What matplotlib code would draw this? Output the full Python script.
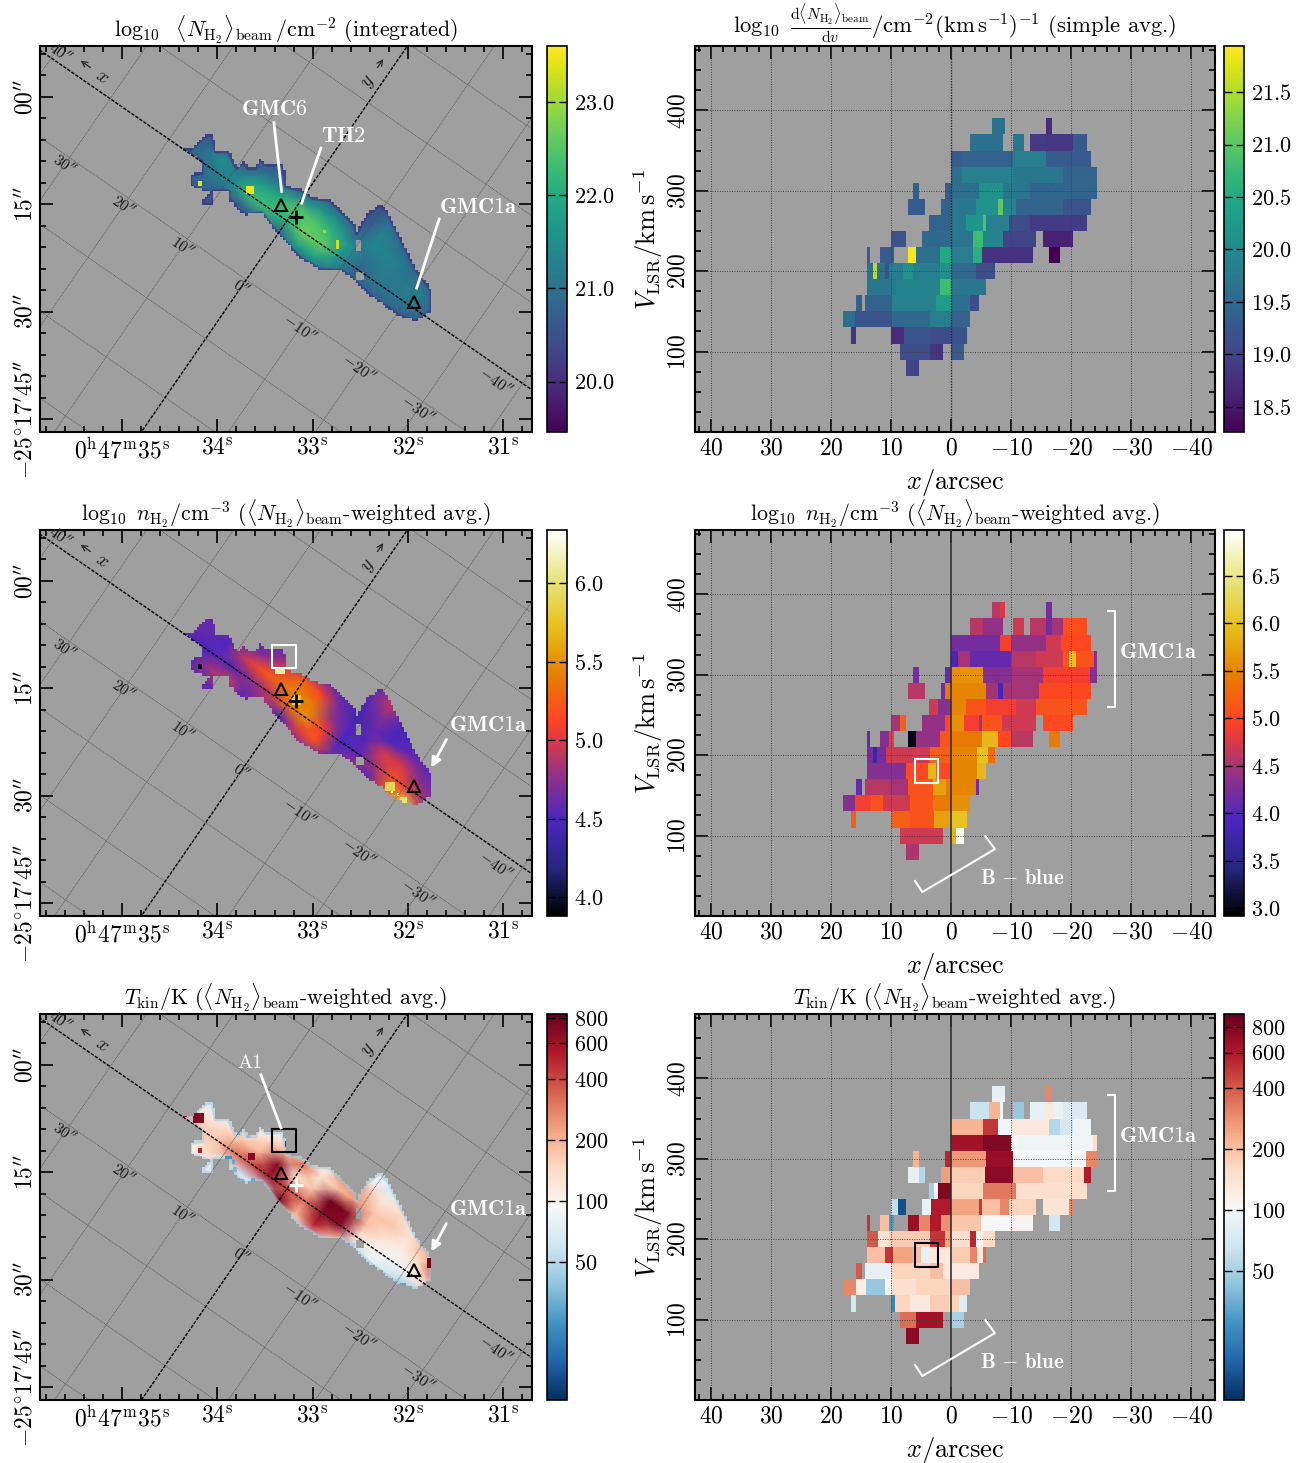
import numpy as np
import matplotlib
matplotlib.use("Agg")
import matplotlib.pyplot as plt
from matplotlib.colors import Normalize, LogNorm
from matplotlib.cm import ScalarMappable
from matplotlib.path import Path
from matplotlib.ticker import FixedLocator, NullLocator

plt.rcParams["font.family"] = ["cmr10", "DejaVu Sans"]
plt.rcParams["mathtext.fontset"] = "cm"
plt.rcParams["axes.unicode_minus"] = False
plt.rcParams["axes.formatter.use_mathtext"] = True

W, H = 1304, 1463
GRAY = "#9f9f9f"

# position-velocity rows: velocity -> (x_start, x_end, value)
pv_nh = {
    380: [(-6.9, -9.0, 19.6), (-15.9, -16.8, 18.7)],
    360: [(-3.1, -8.6, 19.6), (-10.4, -12.2, 19.7), (-13.2, -15.8, 18.9), (-15.8, -20.3, 18.85), (-20.3, -22.7, 19.3)],
    340: [(0, -1.9, 19.3), (-1.9, -10.3, 19.4), (-10.3, -15.8, 19.8), (-15.8, -20, 19.3), (-20, -23.4, 19.3)],
    320: [(0, -1.9, 19.6), (-1.9, -10.3, 19.85), (-10.3, -18.6, 19.7), (-18.6, -24.4, 19.4)],
    300: [(6.4, 5.4, 19.4), (1.0, 0, 19.3), (0, -4.7, 19.6), (-4.7, -8.6, 20.1), (-8.6, -13.1, 19.7), (-13.1, -24.4, 19.45)],
    280: [(7.2, 4.4, 19.3), (1.7, 0, 19.4), (0, -4.2, 19.7), (-4.2, -7.8, 20.1), (-7.8, -8.6, 21.0), (-8.6, -10.8, 19.9),
          (-10.8, -18.6, 19.4), (-18.6, -23.4, 19.2)],
    260: [(3.7, 0, 19.4), (0, -2.5, 19.7), (-2.5, -5.3, 20.2), (-5.3, -5.8, 20.9), (-5.8, -9.7, 19.8), (-9.7, -13.1, 19.1),
          (-13.1, -22.7, 18.9)],
    240: [(10.1, 7.6, 19.2), (4.9, 0, 19.5), (0, -3.6, 19.7), (-3.6, -5.4, 20.8), (-5.4, -8.6, 19.9), (-8.6, -14.1, 19.0),
          (-15.3, -20.4, 18.6)],
    220: [(14.0, 13.5, 19.3), (11.8, 9.6, 19.3), (7.2, 5.9, 21.9), (5.9, 1.9, 19.6), (1.9, 0, 20.5), (0, -3.6, 19.8),
          (-3.6, -5.2, 20.6), (-5.2, -13.6, 18.8), (-16.4, -18.1, 18.27)],
    200: [(14.0, 13.1, 19.6), (13.1, 12.3, 21.5), (12.3, 11.1, 19.6), (11.1, 10.3, 19.2), (10.3, 8.1, 19.8), (8.1, 6.4, 20.1),
          (6.4, 1.9, 19.8), (1.9, 0, 20.1), (0, -4.2, 19.5), (-4.2, -7.3, 19.1)],
    180: [(14.0, 9.2, 19.7), (9.2, 1.9, 19.9), (1.9, 0, 20.8), (0, -5.8, 19.7)],
    160: [(15.9, 14.9, 19.4), (14.4, 10.0, 19.4), (10.0, 2.5, 19.85), (2.5, 0, 20.3), (0, -3.1, 19.6), (-3.1, -4.6, 19.1)],
    140: [(18.1, 16.1, 19.6), (16.1, 10.0, 19.2), (10.0, 3.6, 19.5), (3.6, 0, 19.8), (0, -3.1, 19.4)],
    120: [(16.7, 15.9, 18.8), (10.1, 7.8, 18.7), (7.8, 3.6, 19.2), (3.6, 0, 19.1), (0, -2.6, 19.2)],
    100: [(8.6, 3.6, 19.1), (3.6, 1.4, 18.8), (0, -2.2, 19.3)],
    80: [(7.6, 5.4, 19.0)],
}
pv_n = {
    380: [(-6.9, -8.1, 4.6), (-8.1, -9.0, 4.75), (-15.9, -16.8, 4.2)],
    360: [(-3.1, -5.3, 4.6), (-5.3, -8.6, 4.4), (-10.4, -12.2, 4.7), (-13.2, -15.8, 4.6), (-15.8, -16.8, 4.2), (-16.8, -18.6, 4.5),
          (-18.6, -22.7, 5.05)],
    340: [(0, -8.1, 4.2), (-8.1, -10, 4.9), (-10, -15.8, 4.4), (-15.8, -18.3, 4.7), (-18.3, -23.4, 5.0)],
    320: [(0, -1.1, 3.9), (-1.1, -3.1, 4.5), (-3.1, -10, 4.1), (-10, -14.2, 4.6), (-14.2, -18.6, 4.7), (-18.6, -19.6, 5.1),
          (-19.6, -20.8, 6.0), (-20.8, -23.9, 5.1), (-23.9, -24.4, 4.3)],
    300: [(6.4, 5.4, 4.2), (1.0, 0, 4.1), (0, -5.3, 5.6), (-5.3, -10, 4.3), (-10, -15.3, 4.5), (-15.3, -23.1, 4.9), (-23.1, -24.4, 4.3)],
    280: [(7.2, 4.4, 4.6), (1.7, 1.0, 4.2), (1.0, 0, 5.4), (0, -5.8, 5.5), (-5.8, -7.8, 4.5), (-7.8, -8.6, 3.9), (-8.6, -14.7, 4.5),
          (-14.7, -23.4, 5.0)],
    260: [(3.7, 2.2, 4.7), (2.2, 0, 4.3), (0, -2.5, 5.5), (-2.5, -5.8, 5.1), (-5.8, -10.8, 4.9), (-10.8, -14.2, 4.7), (-14.2, -22.7, 5.1)],
    240: [(10.1, 8.6, 4.5), (8.6, 7.6, 5.2), (4.9, 1.1, 4.4), (1.1, 0, 5.0), (0, -2.2, 5.6), (-2.2, -4.7, 4.9), (-4.7, -5.2, 4.5),
          (-5.2, -8.5, 5.1), (-8.5, -14.1, 4.7), (-15.3, -20.4, 5.0)],
    220: [(14, 13.5, 4.1), (11.8, 10.3, 4.3), (10.3, 9.6, 4.8), (7.2, 5.9, 3.0), (5.9, 1.9, 4.4), (1.9, 0, 5.1), (0, -5.2, 5.4),
          (-5.2, -7.8, 5.9), (-7.8, -10, 5.0), (-10, -13.6, 4.6), (-16.4, -18.1, 5.4)],
    200: [(14, 13.1, 4.2), (13.1, 12.3, 3.7), (12.3, 10.8, 4.2), (10.8, 3.6, 4.7), (3.6, 0, 5.2), (0, -4.4, 5.5), (-4.4, -6.1, 6.0),
          (-6.1, -7.3, 5.3)],
    180: [(14, 7.5, 4.3), (7.5, 3.9, 5.0), (3.9, 2.6, 5.9), (2.6, 1.7, 5.1), (1.7, 0, 5.0), (0, -4.4, 5.5), (-4.4, -5.8, 5.9)],
    160: [(15.9, 14.9, 4.1), (14.4, 10.3, 4.6), (10.3, 7.2, 4.5), (7.2, 3.1, 5.1), (3.1, 0.8, 5.7), (0.8, 0, 5.4), (0, -4.2, 5.5),
          (-4.2, -4.6, 4.2)],
    140: [(18.1, 16.1, 4.3), (16.1, 13.3, 4.9), (13.3, 11.4, 5.1), (11.4, 6.9, 4.7), (6.9, 3.1, 5.1), (3.1, 0, 5.4), (0, -3.1, 5.6)],
    120: [(16.7, 15.9, 5.2), (10.1, 6.9, 5.2), (6.9, 2.8, 5.1), (2.8, 0, 5.7), (0, -2.6, 6.0)],
    100: [(8.6, 1.4, 4.7), (0, -0.8, 5.9), (-0.8, -2.2, 6.9)],
    80: [(7.6, 5.4, 4.55)],
}
pv_t = {
    380: [(-6.9, -9, 85), (-15.9, -16.8, 300)],
    360: [(-3.1, -6.4, 65), (-6.4, -8.2, 220), (-8.2, -8.6, 100), (-10.4, -12.2, 45), (-13.2, -15.8, 85), (-15.8, -17.2, 130),
          (-17.2, -18.6, 90), (-18.6, -22.7, 75)],
    340: [(0, -5.3, 220), (-5.3, -7.8, 500), (-7.8, -10, 95), (-10, -16.4, 130), (-16.4, -18.1, 55), (-18.1, -20.3, 70), (-20.3, -23.4, 95)],
    320: [(0, -5.3, 650), (-5.3, -10, 800), (-10, -11.1, 100), (-11.1, -23.6, 95), (-23.6, -24.4, 150)],
    300: [(6.4, 5.4, 220), (1, 0, 550), (0, -5.8, 270), (-5.8, -10.3, 700), (-10.3, -22.5, 100), (-22.5, -24.4, 300)],
    280: [(7.2, 5.3, 85), (5.3, 4.4, 55), (1.7, 0, 260), (0, -5.6, 180), (-5.6, -10.3, 750), (-10.3, -15.3, 200), (-15.3, -22.2, 160),
          (-22.2, -23.4, 600)],
    260: [(3.7, 2.8, 50), (2.8, 2.2, 100), (2.2, 0, 800), (0, -5.3, 170), (-5.3, -10.8, 330), (-10.8, -22.7, 150)],
    240: [(10.1, 8.9, 60), (8.9, 7.6, 15), (4.9, 3.3, 90), (3.3, 0, 600), (0, -4.7, 250), (-4.7, -5.2, 500), (-5.2, -8.1, 200),
          (-8.1, -9.7, 300), (-9.7, -14.1, 170), (-15.3, -19.7, 140), (-19.7, -20.4, 300)],
    220: [(14, 13.5, 500), (11.8, 10.3, 200), (10.3, 9.6, 30), (7.2, 5.3, 700), (5.3, 3.6, 300), (3.6, 1.7, 600), (1.7, 0, 280),
          (0, -5, 190), (-5, -10, 100), (-10, -13.6, 110), (-16.4, -18.1, 70)],
    200: [(14, 12.2, 400), (12.2, 10.3, 140), (10.3, 3.6, 180), (3.6, 1.1, 500), (1.1, 0, 250), (0, -3.1, 150), (-3.1, -4.2, 550),
          (-4.2, -5.3, 110), (-5.3, -7.3, 160)],
    180: [(14, 11.1, 200), (11.1, 9.7, 500), (9.7, 6.4, 250), (6.4, 5, 200), (5, 3.6, 85), (3.6, 0, 130), (0, -3.1, 180),
          (-3.1, -4.4, 300), (-4.4, -5.3, 130), (-5.3, -5.8, 350)],
    160: [(15.9, 14.9, 400), (14.4, 10, 85), (10, 3.6, 170), (3.6, 1.4, 200), (1.4, 0, 130), (0, -4.6, 125)],
    140: [(18.1, 15.8, 300), (15.8, 14.2, 120), (14.2, 11.1, 45), (11.1, 10, 100), (10, 5.8, 150), (5.8, 0, 170), (0, -3.1, 200)],
    120: [(16.7, 15.9, 70), (10.1, 9.4, 25), (9.4, 6.9, 170), (6.9, 3.6, 130), (3.6, 0.3, 180), (0.3, -1.3, 170), (-1.3, -2.6, 80)],
    100: [(8.6, 5.8, 350), (5.8, 1.4, 650), (0, -2.2, 50)],
    80: [(7.6, 5.4, 750)],
}

# maps: coarse nodes along the rotated offsets (x along the bar, y across it)
map_x = [21, 18, 15, 12, 9, 6, 3, 0, -3, -6, -9, -12, -15, -18, -21, -24, -27]
map_y = [10, 8, 6, 4, 2, 0, -2, -4, -6]
map_nh = [
    [20.5, 20.5, 20.5, 20.5, 20.5, 20.5, 20.5, 20.5, 20.5, 20.5, 20.5, 20.6, 20.5, 20.5, 20.5, 20.5, 20.5],
    [20.5, 20.5, 20.5, 20.5, 20.5, 20.5, 20.5, 20.5, 20.5, 20.5, 20.5, 20.9, 20.7, 20.5, 20.5, 20.5, 20.5],
    [20.5, 20.5, 20.5, 20.6, 20.6, 20.6, 20.6, 20.6, 20.7, 20.5, 20.5, 21.3, 20.9, 20.6, 20.5, 20.5, 20.5],
    [20.5, 20.5, 20.6, 20.6, 20.5, 20.9, 21.0, 21.2, 21.6, 21.5, 20.8, 21.4, 21.3, 21.0, 20.7, 20.5, 20.5],
    [20.6, 20.6, 20.9, 21.5, 21.1, 21.8, 22.0, 22.5, 22.5, 22.2, 21.6, 21.0, 21.2, 21.1, 21.3, 20.7, 20.6],
    [20.6, 20.6, 21.0, 21.2, 21.6, 22.3, 22.3, 22.1, 22.7, 22.6, 21.6, 20.8, 21.1, 21.1, 21.2, 20.7, 20.6],
    [20.5, 20.5, 20.8, 20.9, 20.6, 20.8, 21.2, 20.8, 21.8, 21.8, 21.2, 20.6, 20.7, 20.8, 20.6, 20.5, 20.5],
    [20.5, 20.5, 20.5, 20.6, 20.5, 20.5, 20.5, 20.5, 20.5, 20.6, 20.6, 20.5, 20.5, 20.5, 20.5, 20.5, 20.5],
    [20.5, 20.5, 20.5, 20.5, 20.5, 20.5, 20.5, 20.5, 20.5, 20.5, 20.5, 20.5, 20.5, 20.5, 20.5, 20.5, 20.5],
]
map_n = [
    [4.6, 4.6, 4.6, 4.6, 4.6, 4.6, 4.6, 4.6, 4.6, 4.5, 4.5, 4.9, 4.5, 4.5, 4.5, 4.5, 4.5],
    [4.6, 4.6, 4.6, 4.6, 4.6, 4.6, 4.6, 4.6, 4.6, 4.6, 4.6, 4.9, 4.5, 4.5, 4.5, 4.5, 4.5],
    [4.6, 4.6, 4.6, 4.6, 4.6, 4.6, 4.6, 4.6, 4.6, 4.5, 4.5, 4.7, 4.45, 4.5, 4.5, 4.5, 4.5],
    [4.6, 4.6, 4.6, 4.6, 4.6, 4.7, 5.0, 5.3, 5.1, 4.65, 4.4, 4.6, 4.5, 4.6, 4.55, 4.5, 4.5],
    [4.6, 4.6, 4.6, 4.5, 4.9, 5.15, 5.3, 5.45, 5.4, 4.8, 4.5, 4.55, 5.0, 5.0, 4.7, 4.6, 4.6],
    [4.6, 4.6, 4.5, 4.55, 4.55, 4.75, 4.9, 5.3, 5.5, 5.1, 4.5, 4.55, 4.85, 5.2, 5.0, 4.7, 4.7],
    [4.6, 4.6, 4.5, 4.8, 4.95, 4.6, 4.8, 4.5, 5.0, 5.2, 4.6, 4.8, 4.55, 5.2, 5.8, 4.8, 4.8],
    [4.6, 4.6, 4.6, 4.6, 4.6, 4.6, 4.6, 4.6, 4.6, 4.6, 4.6, 4.6, 4.6, 4.8, 5.6, 4.8, 4.8],
    [4.6, 4.6, 4.6, 4.6, 4.6, 4.6, 4.6, 4.6, 4.6, 4.6, 4.6, 4.6, 4.6, 4.6, 4.6, 4.6, 4.6],
]
map_t = [
    [100, 100, 100, 100, 100, 100, 100, 100, 100, 100, 100, 70, 100, 100, 100, 100, 100],
    [80, 80, 80, 80, 80, 80, 80, 80, 90, 90, 90, 70, 100, 100, 100, 100, 100],
    [90, 90, 90, 90, 90, 90, 90, 90, 100, 300, 200, 120, 150, 120, 100, 100, 100],
    [70, 70, 70, 80, 100, 150, 200, 300, 130, 180, 250, 170, 170, 130, 200, 200, 200],
    [120, 120, 120, 140, 170, 200, 700, 130, 170, 800, 700, 180, 130, 110, 150, 400, 400],
    [300, 300, 170, 170, 300, 400, 600, 400, 300, 700, 700, 120, 100, 85, 100, 150, 150],
    [100, 100, 100, 150, 60, 60, 60, 700, 200, 500, 200, 50, 75, 60, 45, 45, 45],
    [80, 80, 80, 100, 60, 60, 60, 60, 70, 70, 80, 50, 60, 60, 45, 45, 45],
    [70, 70, 70, 70, 70, 70, 70, 70, 70, 70, 70, 70, 70, 70, 70, 70, 70],
]

# source outline and holes in (RA seconds, Dec arcsec below -25d17m)
outline_ra = [34.374, 34.287, 34.200, 34.112, 34.049, 34.015, 33.885, 33.798, 33.728, 33.676, 33.606, 33.553, 33.483, 33.309,
              33.274, 33.117, 32.994, 32.820, 32.645, 32.540, 32.540, 32.435, 32.295, 32.208, 32.121, 32.016, 31.911, 31.754,
              31.754, 31.911, 32.086, 32.365, 32.505, 32.680, 32.924, 33.134, 33.379, 33.536, 33.693, 33.798, 33.815, 33.885,
              33.885, 34.042, 34.042, 34.182, 34.077, 34.287, 34.287, 34.165, 34.165]
outline_dec = [7.31, 7.40, 6.24, 5.31, 5.31, 7.63, 7.54, 9.96, 9.03, 9.96, 9.96, 8.57, 9.50, 9.36,
               12.52, 12.99, 14.15, 14.38, 16.71, 18.11, 19.04, 16.48, 15.08, 16.25, 18.58, 21.37, 24.16, 26.96,
               29.98, 31.38, 30.68, 28.12, 26.49, 24.39, 24.16, 22.53, 19.04, 16.25, 16.48, 15.78, 15.08, 14.38,
               13.22, 13.22, 15.32, 14.85, 13.45, 12.52, 10.89, 10.66, 9.03]
holes = [(32.540, 32.488, 19.97, 21.6), (32.54, 32.45, 24.6, 25.8)]

# small bright or dark spots: ra, dec, half width (s), half height (arcsec), value
spots_nh = [(33.658, 12.99, 0.045, 0.6, 23.5), (34.182, 12.06, 0.025, 0.35, 23.4), (32.739, 20.58, 0.015, 0.65, 23.3),
            (32.879, 18.76, 0.015, 0.2, 23.0)]
spots_n = [(34.182, 11.96, 0.025, 0.35, 3.9), (33.344, 12.66, 0.05, 0.35, 6.1), (32.166, 29.42, 0.012, 0.2, 6.3),
           (32.103, 29.8, 0.012, 0.2, 6.3), (32.05, 30.6, 0.035, 0.4, 6.0), (33.169, 16.62, 0.05, 0.7, 5.8),
           (32.19, 28.7, 0.05, 0.6, 5.9)]
spots_t = [(33.64, 12.8, 0.04, 0.55, 700), (34.2, 7.45, 0.06, 0.7, 700), (34.34, 7.0, 0.02, 0.3, 600), (33.28, 11.08, 0.015, 0.4, 600),
           (31.78, 27.7, 0.018, 0.7, 800), (34.182, 11.96, 0.025, 0.35, 500), (33.920, 15.13, 0.03, 0.25, 25),
           (33.973, 13.87, 0.02, 0.35, 30), (33.885, 12.94, 0.04, 0.2, 25), (33.833, 13.5, 0.015, 0.35, 30),
           (33.815, 14.66, 0.02, 0.35, 35), (33.745, 16.2, 0.02, 0.25, 35), (33.63, 16.06, 0.02, 0.25, 30),
           (33.536, 16.53, 0.015, 0.25, 35), (33.763, 9.78, 0.02, 0.2, 45), (33.676, 10.01, 0.025, 0.2, 40),
           (32.61, 25.14, 0.05, 0.25, 45), (32.051, 30.73, 0.03, 0.25, 30), (32.173, 30.26, 0.02, 0.2, 45)]

ra_ticks = [35, 34, 33, 32, 31]
ra_labels = [r"$0^{\mathrm{h}}47^{\mathrm{m}}35^{\mathrm{s}}$", r"$34^{\mathrm{s}}$", r"$33^{\mathrm{s}}$", r"$32^{\mathrm{s}}$", r"$31^{\mathrm{s}}$"]
dec_ticks = [0, 15, 30, 45]
dec_labels = [r"$00^{\prime\prime}$", r"$15^{\prime\prime}$", r"$30^{\prime\prime}$", r"$-25^{\circ}17^{\prime}45^{\prime\prime}$"]
offset_labels = [30, 20, 10, 0, -10, -20, -30]
offset_lab_y = -11.3

NH2 = r"\langle N_{\mathrm{H}_2}\rangle_{\mathrm{beam}}"


def axes_px(x0, y0, x1, y1):
    return fig.add_axes([x0 / W, 1 - y1 / H, (x1 - x0) / W, (y1 - y0) / H])


def off2sky(x, y):
    # rotated offsets to RA seconds and Dec arcsec
    x = np.asarray(x, float)
    y = np.asarray(y, float)
    return 33.27 + 0.0618 * x - 0.0426 * y, 17.3 - 0.568 * x - 0.823 * y


def style_ticks(ax):
    ax.tick_params(which="both", direction="in", top=True, right=True, width=1.2, labelsize=17, pad=4)
    ax.tick_params(which="major", length=9.5)
    ax.tick_params(which="minor", length=4)
    for s in ax.spines.values():
        s.set_linewidth(1.5)


def add_colorbar(x0, y0, x1, y1, norm, cmap, ticks, labels):
    cax = axes_px(x0, y0, x1, y1)
    cb = fig.colorbar(ScalarMappable(norm=norm, cmap=cmap), cax=cax)
    cax.yaxis.set_major_locator(FixedLocator(ticks))
    cax.yaxis.set_minor_locator(NullLocator())
    cax.set_yticklabels(labels)
    cax.tick_params(which="major", direction="in", left=True, right=True, labelleft=False, labelright=True,
                    length=6, width=1.0, labelsize=16, pad=5)
    cb.outline.set_linewidth(1.2)


def draw_map(y0, values, spots, norm, cmap, title, rim=None):
    ax = axes_px(40, y0, 532, y0 + 386)
    ax.set_facecolor(GRAY)
    xx, yy = np.meshgrid(map_x, map_y)
    ra, dec = off2sky(xx, yy)
    ax.pcolormesh(ra, dec, np.array(values, float), shading="gouraud", norm=norm, cmap=cmap, zorder=1)
    if rim:
        ax.plot(outline_ra + outline_ra[:1], outline_dec + outline_dec[:1], color=rim, lw=3, alpha=0.6, zorder=1.05)
    for s in spots:
        ax.pcolormesh([s[0] + s[2], s[0] - s[2]], [s[1] - s[3], s[1] + s[3]], [[s[4]]], norm=norm, cmap=cmap, zorder=1.1)

    # blocky mask of what lies outside the source, on the sky pixel grid
    ra_edges = np.arange(35.86, 30.70, -0.0283)
    dec_edges = np.arange(-7.1, 46.8, 0.377)
    rc, dc = np.meshgrid(ra_edges - 0.014, dec_edges + 0.19)
    pts = np.column_stack([rc.ravel(), dc.ravel()])
    inside = Path(np.column_stack([outline_ra, outline_dec])).contains_points(pts)
    for h in holes:
        inside &= ~((pts[:, 0] < h[0]) & (pts[:, 0] > h[1]) & (pts[:, 1] > h[2]) & (pts[:, 1] < h[3]))
    rgba = np.ones(rc.shape + (4,))
    rgba[..., :3] = matplotlib.colors.to_rgb(GRAY)
    rgba[..., 3] = ~inside.reshape(rc.shape)
    ax.imshow(rgba, extent=(ra_edges[0], ra_edges[-1] - 0.0283, dec_edges[-1] + 0.377, dec_edges[0]), aspect="auto",
              interpolation="nearest", zorder=1.5)

    # offset grid
    for g in range(-60, 61, 10):
        if g == 0:
            continue
        r, d = off2sky([g, g], [-80, 80])
        ax.plot(r, d, color="0.3", lw=0.6, ls=(0, (1, 1)), zorder=2)
        r, d = off2sky([-80, 80], [g, g])
        ax.plot(r, d, color="0.3", lw=0.6, ls=(0, (1, 1)), zorder=2)
    r, d = off2sky([-80, 80], [0, 0])
    ax.plot(r, d, color="k", lw=1.0, ls=(0, (2.5, 1)), zorder=3)
    r, d = off2sky([0, 0], [-80, 80])
    ax.plot(r, d, color="k", lw=1.0, ls=(0, (2.5, 1)), zorder=3)

    for v in offset_labels:
        r, d = off2sky(v, offset_lab_y)
        ax.text(r, d, rf"${v}^{{\prime\prime}}$", fontsize=11.5, rotation=-35, ha="center", va="center", color="0.1")
    r, d = off2sky(39.4, 1.35)
    ax.text(r, d, r"$40^{\prime\prime}$", fontsize=11.5, rotation=-35, ha="center", va="center", color="0.1")
    r, d = off2sky(-36.7, -1.9)
    ax.text(r, d, r"$-40^{\prime\prime}$", fontsize=11.5, rotation=-35, ha="center", va="center", color="0.1")

    ax.annotate("", xy=(35.458, -5.27), xytext=(35.307, -3.87), arrowprops=dict(arrowstyle="->", color="0.15", lw=0.9))
    ax.text(35.213, -2.84, r"$x$", fontsize=14, rotation=-35, ha="center", va="center", color="0.1")
    ax.annotate("", xy=(32.243, -5.59), xytext=(32.338, -3.77), arrowprops=dict(arrowstyle="->", color="0.15", lw=0.9))
    ax.text(32.41, -2.1, r"$y$", fontsize=14, rotation=55, ha="center", va="center", color="0.1")

    ax.set_xlim(35.86, 30.70)
    ax.set_ylim(46.8, -7.1)
    ax.set_xticks(ra_ticks)
    ax.set_xticklabels(ra_labels)
    ax.xaxis.set_minor_locator(FixedLocator(np.arange(30.8, 35.9, 0.2)))
    ax.set_yticks(dec_ticks)
    ax.set_yticklabels(dec_labels, rotation=90, va="center")
    ax.yaxis.set_minor_locator(FixedLocator(np.arange(-6, 47, 3)))
    style_ticks(ax)
    ax.tick_params(axis="y", pad=2)
    ax.set_title(title, fontsize=15.8, pad=6)
    return ax


def draw_pv(y0, rows, norm, cmap, title, zero_solid, title_size=15.8, title_pad=6):
    ax = axes_px(695, y0, 1215, y0 + 386)
    ax.set_facecolor(GRAY)
    for v, segs in rows.items():
        for s in segs:
            ax.pcolormesh([s[0], s[1]], [v - 10, v + 10], [[s[2]]], norm=norm, cmap=cmap, zorder=1)
    for g in range(-40, 41, 10):
        if g != 0:
            ax.axvline(g, color="0.25", lw=0.7, ls=(0, (1, 1.5)), zorder=2)
    for g in [100, 200, 300, 400]:
        ax.axhline(g, color="0.25", lw=0.7, ls=(0, (1, 1.5)), zorder=2)
    if zero_solid:
        ax.axvline(0, color="0.2", lw=1.2, zorder=3)
    else:
        ax.axvline(0, color="0.15", lw=1.0, ls=(0, (1, 1)), zorder=3)
    ax.set_xlim(42.7, -44)
    ax.set_ylim(0, 480)
    ax.set_xticks(range(-40, 41, 10))
    ax.set_xticklabels([rf"${g}$" for g in range(-40, 41, 10)])
    ax.xaxis.set_minor_locator(FixedLocator(np.arange(-44, 43, 2)))
    ax.set_yticks([100, 200, 300, 400])
    ax.set_yticklabels(["$100$", "$200$", "$300$", "$400$"], rotation=90, va="center")
    ax.yaxis.set_minor_locator(FixedLocator(np.arange(0, 480, 25)))
    style_ticks(ax)
    ax.set_xlabel(r"$x/\mathrm{arcsec}$", fontsize=19, labelpad=5)
    ax.set_ylabel(r"$V_{\mathrm{LSR}}/\mathrm{km\,s}^{-1}$", fontsize=19, labelpad=2)
    ax.set_title(title, fontsize=title_size, pad=title_pad)
    return ax


def pv_marks(ax, col):
    ax.plot([-26.2, -27.3, -27.3, -26.2], [379, 379, 259.6, 259.6], color="w", lw=1.5, zorder=4)
    ax.text(-34.5, 328, r"$\mathbf{GMC1a}$", color="w", fontsize=16, ha="center", va="center", zorder=4)
    ax.plot([6.0, 4.8, -7.3, -5.7], [43.5, 29.8, 83.2, 99.4], color="w", lw=1.5, zorder=4)
    ax.text(-11.8, 47.2, r"$\mathbf{B\,-\,blue}$", color="w", fontsize=15, ha="center", va="center", zorder=4)
    ax.plot([6.0, 2.2, 2.2, 6.0, 6.0], [195, 195, 165, 165, 195], color=col, lw=1.5, zorder=4)


def map_marks(ax, cross_col):
    ax.plot([33.333, 31.94], [15.08, 28.59], ls="none", marker="^", ms=9, mfc="none", mec="k", mew=1.5, zorder=5)
    ax.plot([33.176], [16.72], ls="none", marker="+", ms=10, mec=cross_col, mew=2, zorder=5)


fig = plt.figure(figsize=(W / 100, H / 100), dpi=100)

# row 1
norm = Normalize(19.46, 23.6)
title = rf"$\log_{{10}}\ \ {NH2}\,/\mathrm{{cm}}^{{-2}}$ (integrated)"
ax = draw_map(46, map_nh, spots_nh, norm, "viridis", title, rim="#43307f")
map_marks(ax, "k")
for lab, tx, ty, lx in [("GMC6", 33.407, 1.8, (33.407, 3.6, 33.326, 13.2)), ("TH2", 32.673, 5.45, (32.914, 7.16, 33.116, 14.85)),
                        ("GMC1a", 31.268, 15.4, (31.674, 17.08, 31.91, 26.7))]:
    ax.text(tx, ty, rf"$\mathbf{{{lab}}}$", color="w", fontsize=16, ha="center", va="center", zorder=6)
    ax.plot([lx[0], lx[2]], [lx[1], lx[3]], color="w", lw=2, zorder=6)
add_colorbar(547, 46, 567, 432, norm, "viridis", [20, 21, 22, 23], ["$20.0$", "$21.0$", "$22.0$", "$23.0$"])

norm = Normalize(18.26, 21.94)
title = rf"$\log_{{10}}\ \frac{{\mathrm{{d}}{NH2}}}{{\mathrm{{d}}v}}/\mathrm{{cm}}^{{-2}}(\mathrm{{km\,s}}^{{-1}})^{{-1}}$ (simple avg.)"
draw_pv(46, pv_nh, norm, "viridis", title, False, title_size=16.3, title_pad=2)
ticks = [18.5, 19, 19.5, 20, 20.5, 21, 21.5]
add_colorbar(1224, 46, 1244, 432, norm, "viridis", ticks, [f"${t:.1f}$" for t in ticks])

# row 2
norm = Normalize(3.88, 6.34)
title = rf"$\log_{{10}}\ n_{{\mathrm{{H}}_2}}/\mathrm{{cm}}^{{-3}}$ (${NH2}$-weighted avg.)"
ax = draw_map(530, map_n, spots_n, norm, "CMRmap", title)
map_marks(ax, "k")
ax.plot([33.43, 33.18, 33.18, 33.43, 33.43], [8.94, 8.94, 12.15, 12.15, 8.94], color="w", lw=1.5, zorder=6)
ax.text(31.163, 20.1, r"$\mathbf{GMC1a}$", color="w", fontsize=16, ha="center", va="center", zorder=6)
ax.annotate("", xy=(31.77, 26.4), xytext=(31.583, 21.8), zorder=6, arrowprops=dict(arrowstyle="-|>", color="w", lw=2, mutation_scale=14))
ticks = [4, 4.5, 5, 5.5, 6]
add_colorbar(547, 530, 567, 916, norm, "CMRmap", ticks, [f"${t:.1f}$" for t in ticks])

norm = Normalize(2.92, 6.98)
ax = draw_pv(530, pv_n, norm, "CMRmap", title, True)
pv_marks(ax, "w")
ticks = [3, 3.5, 4, 4.5, 5, 5.5, 6, 6.5]
add_colorbar(1224, 530, 1244, 916, norm, "CMRmap", ticks, [f"${t:.1f}$" for t in ticks])

# row 3
norm = LogNorm(10.4, 836)
title = rf"$T_{{\mathrm{{kin}}}}/\mathrm{{K}}$ (${NH2}$-weighted avg.)"
ax = draw_map(1014, map_t, spots_t, norm, "RdBu_r", title, rim="#9ecae1")
map_marks(ax, "w")
ax.plot([33.43, 33.18, 33.18, 33.43, 33.43], [8.94, 8.94, 12.15, 12.15, 8.94], color="k", lw=1.5, zorder=6)
ax.text(33.658, -0.28, "A1", color="w", fontsize=14.5, ha="center", va="center", zorder=6)
ax.plot([33.543, 33.333], [1.4, 8.8], color="w", lw=2, zorder=6)
ax.text(31.163, 20.1, r"$\mathbf{GMC1a}$", color="w", fontsize=16, ha="center", va="center", zorder=6)
ax.annotate("", xy=(31.77, 26.4), xytext=(31.583, 21.8), zorder=6, arrowprops=dict(arrowstyle="-|>", color="w", lw=2, mutation_scale=14))
ticks = [50, 100, 200, 400, 600, 800]
add_colorbar(547, 1014, 567, 1400, norm, "RdBu_r", ticks, [f"${t}$" for t in ticks])

norm = LogNorm(11.5, 930)
ax = draw_pv(1014, pv_t, norm, "RdBu_r", title, True)
pv_marks(ax, "k")
add_colorbar(1224, 1014, 1244, 1400, norm, "RdBu_r", ticks, [f"${t}$" for t in ticks])

fig.savefig("out.png", dpi=100)
